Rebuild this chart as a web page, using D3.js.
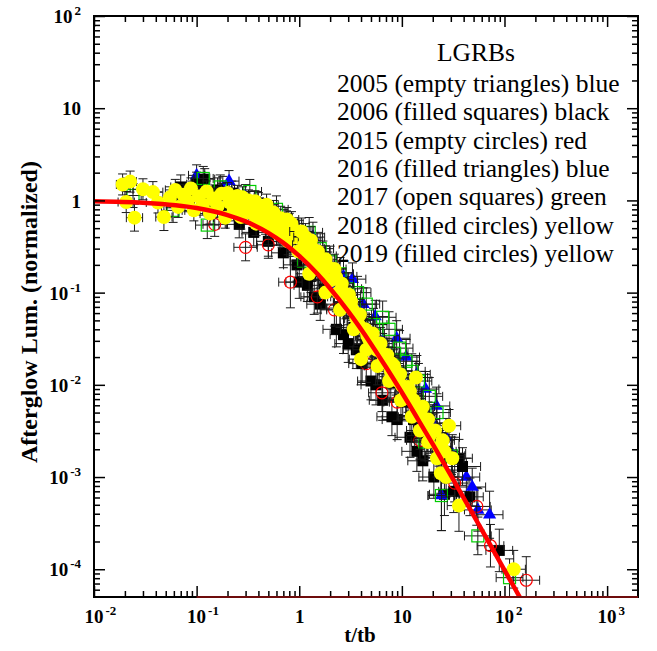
<!DOCTYPE html>
<html>
<head>
<meta charset="utf-8">
<script src="https://cdnjs.cloudflare.com/ajax/libs/d3/7.8.5/d3.min.js"></script>
<style>
body { margin: 0; background: #fff; }
</style>
</head>
<body>
<div id="chart"></div>
<script>
// each point: [t/tb, normalized lum, x error (fraction), y error (fraction)]
var grb2005 = [
    [0.1, 1.87, 0.2, 0.3], [0.09, 1.2, 0.3, 0.35], [0.18, 1.35, 0.3, 0.35], [0.4, 0.9, 0.3, 0.35],
    [0.75, 0.55, 0.3, 0.4], [1.36, 0.4, 0.3, 0.45], [2.7, 0.15, 0.35, 0.5], [4.2, 0.075, 0.35, 0.5],
    [8.9, 0.032, 0.35, 0.55], [14, 0.013, 0.35, 0.6], [21.7, 0.0059, 0.35, 0.6], [27, 0.0027, 0.35, 0.6],
    [42.5, 0.001, 0.35, 0.6], [55, 4.4e-4, 0.35, 0.7]
];
var grb2006 = [
    [0.07, 1.4, 0.25, 0.35], [0.085, 1.05, 0.3, 0.35], [0.1, 1.5, 0.25, 0.35], [0.12, 1.7, 0.25, 0.3],
    [0.14, 0.95, 0.3, 0.35], [0.16, 1.3, 0.3, 0.35], [0.19, 0.82, 0.3, 0.35], [0.22, 1.2, 0.3, 0.35],
    [0.26, 0.55, 0.3, 0.4], [0.3, 0.78, 0.3, 0.35], [0.36, 0.45, 0.3, 0.4], [0.42, 0.68, 0.3, 0.35],
    [0.5, 0.36, 0.3, 0.45], [0.6, 0.5, 0.3, 0.4], [0.7, 0.27, 0.3, 0.45], [0.82, 0.38, 0.3, 0.4],
    [0.95, 0.2, 0.35, 0.5], [1.0, 0.13, 0.35, 0.5], [1.1, 0.27, 0.35, 0.45], [1.2, 0.12, 0.35, 0.5],
    [1.3, 0.15, 0.35, 0.5], [1.4, 0.09, 0.35, 0.55], [1.5, 0.2, 0.35, 0.45], [1.6, 0.075, 0.35, 0.5],
    [1.75, 0.11, 0.35, 0.5], [2.1, 0.13, 0.35, 0.45], [2.3, 0.04, 0.35, 0.55], [2.5, 0.068, 0.35, 0.55],
    [2.7, 0.035, 0.35, 0.6], [2.9, 0.08, 0.35, 0.5], [3.0, 0.028, 0.35, 0.6], [3.4, 0.042, 0.35, 0.55],
    [3.6, 0.024, 0.35, 0.6], [4.0, 0.05, 0.35, 0.5], [4.1, 0.017, 0.35, 0.6], [4.6, 0.026, 0.35, 0.55],
    [5.0, 0.011, 0.35, 0.6], [5.3, 0.03, 0.35, 0.5], [5.6, 0.01, 0.4, 0.65], [6.0, 0.017, 0.35, 0.55],
    [6.5, 0.0068, 0.35, 0.65], [6.8, 0.02, 0.35, 0.5], [7.8, 0.0105, 0.35, 0.6], [8.0, 0.0045, 0.4, 0.6],
    [8.8, 0.012, 0.35, 0.55], [9.0, 0.0042, 0.4, 0.65], [10.2, 0.0065, 0.35, 0.6], [11.5, 0.0078, 0.35, 0.55],
    [12, 0.0027, 0.4, 0.65], [13, 0.0042, 0.35, 0.6], [14, 0.0019, 0.4, 0.65], [15, 0.0048, 0.35, 0.6],
    [16, 0.0015, 0.4, 0.65], [17.5, 0.0026, 0.35, 0.6], [20, 0.003, 0.35, 0.6], [20.5, 0.001, 0.4, 0.7],
    [23, 0.0017, 0.35, 0.65], [26, 6.5e-4, 0.4, 0.7], [27, 0.0019, 0.35, 0.6], [32, 7.0e-4, 0.4, 0.7],
    [36, 0.0016, 0.35, 0.6], [39, 0.0013, 0.5, 0.6], [46, 6.1e-4, 0.35, 0.6], [89, 1.6e-4, 0.35, 0.7]
];
var grb2015 = [
    [0.15, 0.55, 0.3, 0.35], [0.3, 0.31, 0.3, 0.4], [0.5, 0.33, 0.3, 0.4], [0.82, 0.13, 0.3, 0.9],
    [1.5, 0.09, 0.35, 0.5], [2.2, 0.065, 0.35, 0.5], [4.5, 0.017, 0.35, 0.6], [6.4, 0.0082, 0.35, 0.6],
    [9, 0.0065, 0.35, 0.6], [15, 0.0025, 0.35, 0.6], [32.7, 8.6e-4, 0.35, 0.6], [53.7, 4.8e-4, 0.35, 0.6],
    [73, 1.8e-4, 0.35, 0.7], [163, 7.6e-5, 0.35, 0.8]
];
var grb2016 = [
    [0.207, 1.62, 0.25, 0.3], [0.13, 0.9, 0.3, 0.35], [0.3, 1.1, 0.3, 0.35], [0.55, 0.62, 0.3, 0.4],
    [1.0, 0.42, 0.35, 0.45], [1.7, 0.25, 0.35, 0.45], [2.2, 0.11, 0.35, 0.5], [3.3, 0.14, 0.35, 0.5],
    [5.5, 0.055, 0.35, 0.5], [6.5, 0.03, 0.35, 0.5], [11, 0.02, 0.35, 0.55], [17, 0.009, 0.35, 0.55],
    [20, 0.0038, 0.35, 0.6], [24.3, 6.3e-4, 0.35, 1.4], [31, 0.0018, 0.35, 0.6], [48.5, 7.8e-4, 0.35, 0.6],
    [71.6, 3.9e-4, 0.35, 0.8]
];
var grb2017 = [
    [0.024, 1.13, 0.2, 0.35], [0.059, 0.78, 0.3, 0.35], [0.116, 1.73, 0.25, 0.35], [0.127, 0.54, 0.3, 0.4],
    [0.17, 1.4, 0.3, 0.35], [0.24, 0.95, 0.3, 0.35], [0.33, 1.25, 0.3, 0.35], [0.45, 0.75, 0.3, 0.4],
    [0.6, 0.8, 0.3, 0.4], [0.8, 0.5, 0.35, 0.45], [1.1, 0.22, 0.35, 0.5], [1.25, 0.45, 0.35, 0.45],
    [1.6, 0.3, 0.35, 0.45], [2.0, 0.22, 0.35, 0.45], [2.5, 0.16, 0.35, 0.5], [3.0, 0.11, 0.35, 0.5],
    [3.7, 0.1, 0.35, 0.5], [4.5, 0.075, 0.35, 0.5], [5.3, 0.045, 0.35, 0.5], [6.5, 0.054, 0.35, 0.5],
    [7.5, 0.04, 0.35, 0.55], [8.5, 0.022, 0.35, 0.55], [9.5, 0.025, 0.35, 0.55], [11, 0.018, 0.35, 0.55],
    [12.5, 0.014, 0.35, 0.55], [14.5, 0.011, 0.35, 0.55], [16.7, 0.0024, 0.35, 0.6], [18.5, 0.0075, 0.35, 0.6],
    [22, 0.005, 0.35, 0.6], [24.3, 6.3e-4, 0.35, 1.4], [30.4, 0.0017, 0.35, 0.6], [55, 2.3e-4, 0.35, 0.6],
    [112, 8.1e-5, 0.35, 0.6]
];
var grb2018 = [
    [0.019, 1.49, 0.15, 0.3], [0.0225, 1.6, 0.15, 0.3], [0.0206, 0.96, 0.2, 0.3], [0.0248, 0.65, 0.2, 0.4],
    [0.03, 1.32, 0.25, 0.3], [0.0375, 1.23, 0.25, 0.3], [0.048, 0.66, 0.2, 0.4], [0.042, 0.95, 0.3, 0.3],
    [0.055, 1.08, 0.3, 0.3], [0.062, 1.3, 0.25, 0.3], [0.066, 0.85, 0.3, 0.3], [0.074, 1.15, 0.3, 0.3],
    [0.082, 0.98, 0.3, 0.3], [0.088, 1.35, 0.3, 0.3], [0.094, 0.78, 0.3, 0.3], [0.105, 1.1, 0.25, 0.3],
    [0.115, 0.9, 0.3, 0.3], [0.125, 1.25, 0.3, 0.3], [0.135, 0.72, 0.25, 0.3], [0.145, 1.02, 0.3, 0.3],
    [0.15, 1.05, 0.3, 0.3], [0.16, 0.86, 0.3, 0.3], [0.175, 1.18, 0.25, 0.3], [0.19, 0.65, 0.3, 0.3],
    [0.2, 1.2, 0.3, 0.3], [0.21, 0.95, 0.3, 0.3], [0.23, 0.78, 0.3, 0.3], [0.24, 0.92, 0.3, 0.3],
    [0.25, 1.12, 0.3, 0.3], [0.27, 0.66, 0.3, 0.35], [0.28, 1.08, 0.3, 0.3], [0.29, 0.88, 0.3, 0.3],
    [0.32, 1.0, 0.3, 0.3], [0.33, 0.84, 0.3, 0.3], [0.35, 0.72, 0.3, 0.3], [0.37, 0.98, 0.3, 0.3],
    [0.38, 0.56, 0.3, 0.35], [0.41, 0.82, 0.3, 0.3], [0.43, 0.7, 0.3, 0.3], [0.44, 0.62, 0.3, 0.3],
    [0.47, 0.58, 0.3, 0.35], [0.48, 0.9, 0.3, 0.3], [0.52, 0.52, 0.3, 0.35], [0.56, 0.74, 0.3, 0.35],
    [0.58, 0.6, 0.3, 0.35], [0.62, 0.44, 0.3, 0.35], [0.66, 0.64, 0.3, 0.35], [0.68, 0.42, 0.3, 0.35],
    [0.72, 0.5, 0.3, 0.35], [0.76, 0.62, 0.3, 0.35], [0.78, 0.36, 0.3, 0.4], [0.84, 0.56, 0.3, 0.35],
    [0.88, 0.48, 0.3, 0.35], [0.92, 0.4, 0.3, 0.4]
];
var grb2019 = [
    [0.98, 0.28, 0.3, 0.45], [1.05, 0.46, 0.3, 0.4], [1.12, 0.33, 0.3, 0.4], [1.15, 0.4, 0.3, 0.4],
    [1.22, 0.24, 0.3, 0.45], [1.25, 0.16, 0.35, 0.5], [1.3, 0.37, 0.3, 0.4], [1.35, 0.3, 0.3, 0.4],
    [1.42, 0.2, 0.3, 0.45], [1.52, 0.28, 0.3, 0.4], [1.6, 0.22, 0.3, 0.4], [1.68, 0.17, 0.3, 0.45],
    [1.8, 0.23, 0.3, 0.4], [1.8, 0.1, 0.35, 0.5], [1.9, 0.19, 0.3, 0.45], [2.0, 0.135, 0.3, 0.45],
    [2.2, 0.18, 0.3, 0.45], [2.3, 0.145, 0.3, 0.45], [2.4, 0.1, 0.3, 0.5], [2.5, 0.065, 0.35, 0.55],
    [2.6, 0.125, 0.3, 0.45], [2.7, 0.1, 0.3, 0.45], [2.85, 0.078, 0.3, 0.5], [3.05, 0.095, 0.3, 0.45],
    [3.2, 0.08, 0.3, 0.45], [3.3, 0.066, 0.3, 0.5], [3.4, 0.04, 0.35, 0.55], [3.6, 0.052, 0.3, 0.5],
    [3.8, 0.045, 0.3, 0.5], [3.9, 0.058, 0.3, 0.45], [4.0, 0.019, 0.3, 0.9], [4.4, 0.04, 0.3, 0.5],
    [4.5, 0.024, 0.35, 0.55], [4.6, 0.034, 0.3, 0.5], [4.8, 0.031, 0.3, 0.5], [5.2, 0.036, 0.3, 0.5],
    [5.4, 0.027, 0.3, 0.5], [5.7, 0.024, 0.3, 0.55], [5.8, 0.016, 0.35, 0.6], [6.2, 0.028, 0.3, 0.5],
    [6.4, 0.022, 0.3, 0.5], [6.7, 0.019, 0.3, 0.55], [7.2, 0.021, 0.3, 0.5], [7.5, 0.011, 0.35, 0.6],
    [7.8, 0.014, 0.3, 0.55], [8.0, 0.017, 0.3, 0.5], [8.4, 0.016, 0.3, 0.5], [9.2, 0.011, 0.3, 0.55],
    [9.6, 0.013, 0.3, 0.5], [9.8, 0.0068, 0.35, 0.6], [10, 0.0098, 0.3, 0.55], [11, 0.0072, 0.3, 0.55],
    [11.5, 0.0095, 0.3, 0.5], [12, 0.0085, 0.3, 0.5], [12.5, 0.0045, 0.35, 0.6], [13, 0.0068, 0.3, 0.55],
    [13.7, 0.012, 0.3, 0.5], [14.2, 0.0052, 0.3, 0.55], [15, 0.0032, 0.35, 0.6], [15.5, 0.0046, 0.3, 0.55],
    [16, 0.0058, 0.3, 0.55], [17, 0.0036, 0.3, 0.55], [18, 0.0042, 0.3, 0.55], [18, 0.0024, 0.35, 0.6],
    [19, 0.0029, 0.3, 0.6], [21, 0.0032, 0.3, 0.55], [22, 0.0016, 0.3, 0.6], [23, 0.0021, 0.3, 0.6],
    [24, 0.0011, 0.3, 0.65], [25, 0.0025, 0.3, 0.55], [26, 0.0019, 0.3, 0.6], [27, 0.001, 0.3, 0.65],
    [28.8, 0.0036, 0.3, 0.5], [31, 0.0016, 0.3, 0.6], [36, 4.9e-4, 0.3, 0.9], [123, 1.0e-4, 0.3, 0.6]
];

// fitted curve
var fitT = [0.01, 0.03, 0.1, 0.2, 0.3, 0.5, 0.7, 1, 1.5, 2, 3, 5, 7, 10, 15, 20, 30, 50, 70, 100, 150];
var fitL = [0.98, 0.943, 0.826, 0.694, 0.592, 0.444, 0.346, 0.25, 0.16, 0.111, 0.0625, 0.0278, 0.0156,
            0.00826, 0.0039, 0.00227, 0.00104, 3.84e-4, 1.98e-4, 9.8e-5, 4.4e-5];

var legendTitle = "LGRBs";
var legendLines = [
    "2005 (empty triangles) blue",
    "2006 (filled squares) black",
    "2015 (empty circles) red",
    "2016 (filled triangles) blue",
    "2017 (open squares) green",
    "2018 (filled circles) yellow",
    "2019 (filled circles) yellow"
];

var xMajor = [1e-2, 1e-1, 1, 10, 100, 1000];
var xTickLabels = [["10", "-2"], ["10", "-1"], ["1", ""], ["10", ""], ["10", "2"], ["10", "3"]];
var yMajor = [1e-4, 1e-3, 1e-2, 1e-1, 1, 10, 100];
var yTickLabels = [["10", "-4"], ["10", "-3"], ["10", "-2"], ["10", "-1"], ["1", ""], ["10", ""], ["10", "2"]];

var svgWidth = 657;
var svgHeight = 651;
var margin = { top: 16, right: 19, bottom: 54, left: 94 };
var width = svgWidth - margin.left - margin.right;
var height = svgHeight - margin.top - margin.bottom;

var svg = d3.select("#chart")
    .append("svg")
    .attr("width", svgWidth)
    .attr("height", svgHeight)
    .style("font-family", "'Liberation Serif', 'Times New Roman', serif");

var chartGroup = svg.append("g")
    .attr("transform", `translate(${margin.left}, ${margin.top})`);

var x = d3.scaleLog().domain([0.01, 2000]).range([0, width]);
var y = d3.scaleLog().domain([5e-5, 100]).range([height, 0]);

var xMinor = [];
xMajor.forEach(d => { for (var k = 2; k < 10; k++) if (d * k < 2000) xMinor.push(d * k); });
var yMinor = [];
[1e-5].concat(yMajor).forEach(d => { for (var k = 2; k < 10; k++) if (d * k > 5e-5 && d * k < 100) yMinor.push(d * k); });

svg.append("clipPath").attr("id", "plotClip")
    .append("rect").attr("width", width).attr("height", height);

var marks = chartGroup.append("g").attr("clip-path", "url(#plotClip)");

var series = [
    { data: grb2005, shape: "triangle", fill: "#0000ff", stroke: "none" },
    { data: grb2006, shape: "square", fill: "#000000", stroke: "none" },
    { data: grb2015, shape: "circle", fill: "none", stroke: "#ff0000" },
    { data: grb2016, shape: "triangle", fill: "#0000ff", stroke: "none" },
    { data: grb2017, shape: "square", fill: "none", stroke: "#00cc00" },
    { data: grb2018, shape: "circle", fill: "#ffff00", stroke: "none" },
    { data: grb2019, shape: "circle", fill: "#ffff00", stroke: "none" }
];

var cap = 4.5;
function errorPath(d) {
    var x0 = x(d[0] / (1 + d[2])), x1 = x(d[0] * (1 + d[2])), yc = y(d[1]);
    var y0 = y(d[1] / (1 + d[3])), y1 = y(d[1] * (1 + d[3])), xc = x(d[0]);
    return `M${x0},${yc}H${x1}M${x0},${yc - cap}V${yc + cap}M${x1},${yc - cap}V${yc + cap}` +
        `M${xc},${y0}V${y1}M${xc - cap},${y0}H${xc + cap}M${xc - cap},${y1}H${xc + cap}`;
}

series.forEach(s => {
    var g = marks.append("g");

    g.selectAll(".err").data(s.data).enter().append("path")
        .attr("d", errorPath)
        .attr("stroke", "#1a1a1a")
        .attr("stroke-width", 1)
        .attr("fill", "none");

    if (s.shape === "circle") {
        g.selectAll(".pt").data(s.data).enter().append("circle")
            .attr("cx", d => x(d[0]))
            .attr("cy", d => y(d[1]))
            .attr("r", s.fill === "none" ? 6 : 7)
            .attr("fill", s.fill)
            .attr("stroke", s.stroke)
            .attr("stroke-width", 1.2);
    } else if (s.shape === "square") {
        var sz = s.fill === "none" ? 12 : 11;
        g.selectAll(".pt").data(s.data).enter().append("rect")
            .attr("x", d => x(d[0]) - sz / 2)
            .attr("y", d => y(d[1]) - sz / 2)
            .attr("width", sz)
            .attr("height", sz)
            .attr("fill", s.fill)
            .attr("stroke", s.stroke)
            .attr("stroke-width", 1.2);
    } else {
        g.selectAll(".pt").data(s.data).enter().append("path")
            .attr("d", d3.symbol().type(d3.symbolTriangle).size(75))
            .attr("transform", d => `translate(${x(d[0])},${y(d[1])})`)
            .attr("fill", s.fill);
    }
});

var fitLine = d3.line()
    .x(d => x(d[0]))
    .y(d => y(d[1]))
    .curve(d3.curveMonotoneX);

marks.append("path")
    .datum(fitT.map((t, i) => [t, fitL[i]]))
    .attr("d", fitLine)
    .attr("fill", "none")
    .attr("stroke", "#ff0000")
    .attr("stroke-width", 4.5);

// axes: major and minor ticks inward on all four sides
function styleAxis(g) {
    g.select(".domain").remove();
    g.selectAll(".tick line").attr("stroke", "#000").attr("stroke-width", 1.5);
}

chartGroup.append("g").attr("transform", `translate(0, ${height})`)
    .call(d3.axisBottom(x).tickValues(xMinor).tickSize(-6).tickFormat("")).call(styleAxis);
chartGroup.append("g")
    .call(d3.axisTop(x).tickValues(xMinor).tickSize(-6).tickFormat("")).call(styleAxis);
chartGroup.append("g")
    .call(d3.axisTop(x).tickValues(xMajor).tickSize(-11).tickFormat("")).call(styleAxis);
chartGroup.append("g")
    .call(d3.axisLeft(y).tickValues(yMinor).tickSize(-6).tickFormat("")).call(styleAxis);
chartGroup.append("g").attr("transform", `translate(${width}, 0)`)
    .call(d3.axisRight(y).tickValues(yMinor).tickSize(-6).tickFormat("")).call(styleAxis);
chartGroup.append("g").attr("transform", `translate(${width}, 0)`)
    .call(d3.axisRight(y).tickValues(yMajor).tickSize(-11).tickFormat("")).call(styleAxis);

var xAxis = chartGroup.append("g").attr("transform", `translate(0, ${height})`)
    .call(d3.axisBottom(x).tickValues(xMajor).tickSize(-11).tickPadding(13).tickFormat(""))
    .call(styleAxis);
var yAxis = chartGroup.append("g")
    .call(d3.axisLeft(y).tickValues(yMajor).tickSize(-11).tickPadding(13).tickFormat(""))
    .call(styleAxis);

function tickLabel(sel, labels, isX) {
    sel.selectAll(".tick text").each(function (d, i) {
        var t = d3.select(this)
            .attr("fill", "#000")
            .attr("font-size", 19)
            .attr("font-weight", "bold")
            .attr("font-family", "'Liberation Serif', serif");
        var lab = labels[i];
        t.text(null);
        if (isX && lab[1] !== "") t.attr("text-anchor", "start").attr("x", -10);
        if (!isX) t.attr("dy", "0.35em");
        t.append("tspan").text(lab[0]);
        if (lab[1] !== "") {
            t.append("tspan").attr("dx", 2).attr("dy", -8).attr("font-size", 13).text(lab[1]);
        }
    });
}
tickLabel(xAxis, xTickLabels, true);
tickLabel(yAxis, yTickLabels, false);

// frame
chartGroup.append("rect")
    .attr("width", width).attr("height", height)
    .attr("fill", "none").attr("stroke", "#000").attr("stroke-width", 2);
chartGroup.append("line")
    .attr("x1", x(0.1)).attr("x2", width)
    .attr("y1", height).attr("y2", height)
    .attr("stroke", "#6e0c0c").attr("stroke-width", 2);

// axis titles
svg.append("text")
    .attr("x", 360).attr("y", 642)
    .attr("text-anchor", "middle")
    .attr("font-size", 21).attr("font-weight", "bold")
    .text("t/tb");
svg.append("text")
    .attr("transform", "translate(37, 312) rotate(-90)")
    .attr("text-anchor", "middle")
    .attr("font-size", 24).attr("font-weight", "bold")
    .text("Afterglow Lum. (normalized)");

// legend text
svg.append("text")
    .attr("x", 437).attr("y", 61)
    .attr("font-size", 25.5)
    .text(legendTitle);
svg.selectAll(".legendLine")
    .data(legendLines)
    .enter()
    .append("text")
    .attr("x", 337)
    .attr("y", (d, i) => 91.7 + i * 28.4)
    .attr("font-size", 25.5)
    .text(d => d);
</script>
</body>
</html>
